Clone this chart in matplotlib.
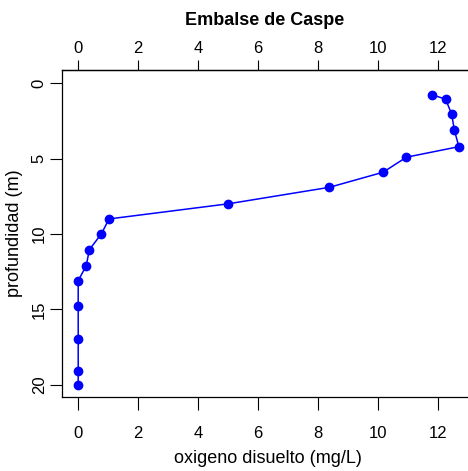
import numpy as np
import matplotlib.pyplot as plt

plt.rcParams['font.family'] = ['Liberation Sans', 'DejaVu Sans']

# Perfil de oxigeno disuelto
oxigeno = [11.82, 12.27, 12.47, 12.56, 12.71, 10.96, 10.18, 8.39, 5.0,
           1.04, 0.78, 0.38, 0.28, 0.01, 0.01, 0.01, 0.01, 0.01]
profundidad = [0.75, 1.05, 2.05, 3.1, 4.2, 4.9, 5.9, 6.9, 8.0,
               9.0, 10.0, 11.05, 12.1, 13.1, 14.8, 17.0, 19.1, 20.0]
xticks = [0, 2, 4, 6, 8, 10, 12]
yticks = [0, 5, 10, 15, 20]

fig = plt.figure(figsize=(4.68, 4.71), dpi=100)
ax = fig.add_axes([0.1325, 0.157, 0.88, 0.694])

ax.plot(oxigeno, profundidad, '-o', color='#0000ff', linewidth=1.1,
        markersize=6)

ax.set_xlim(-0.53, 13.21)
ax.set_ylim(20.83, -0.88)
ax.set_xticks(xticks)
ax.set_yticks(yticks)
ax.tick_params(axis='x', direction='out', length=9, width=0.8,
               labelsize=12, pad=12)
ax.tick_params(axis='y', direction='out', length=9, width=0.8,
               labelsize=12, pad=2)
for lab in ax.get_yticklabels():
    lab.set_rotation(90)
    lab.set_va('center')
ax.spines['right'].set_visible(False)
for s in ['left', 'top', 'bottom']:
    ax.spines[s].set_linewidth(0.9)

# eje superior
top = ax.secondary_xaxis('top')
top.set_xticks(xticks)
top.tick_params(direction='out', length=7, width=0.8, labelsize=12, pad=3)
top.spines['top'].set_linewidth(0.9)

ax.set_xlabel('oxigeno disuelto (mg/L)', fontsize=13, labelpad=6)
ax.set_ylabel('profundidad (m)', fontsize=13, labelpad=6)
fig.text(0.565, 0.957, 'Embalse de Caspe', ha='center', va='center',
         fontsize=13, fontweight='bold')

fig.savefig('out.png', dpi=100)
